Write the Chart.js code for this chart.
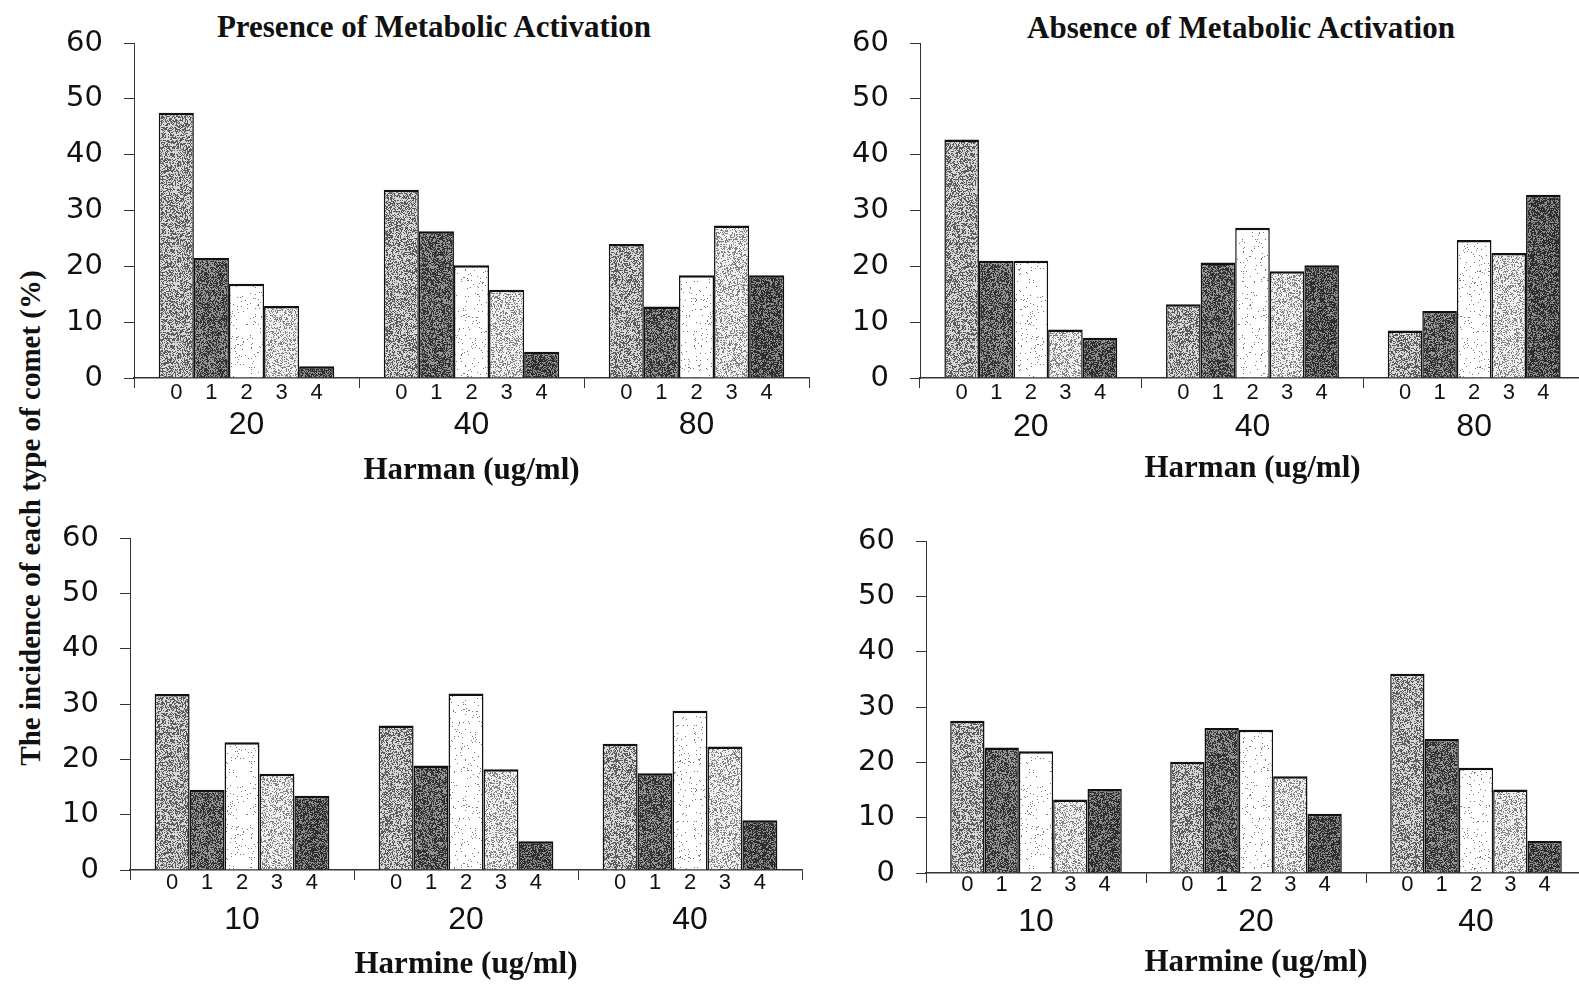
<!DOCTYPE html>
<html><head><meta charset="utf-8">
<script src="https://cdn.jsdelivr.net/npm/chart.js@4.4.1/dist/chart.umd.min.js"></script>
<style>
html,body{margin:0;padding:0;background:#fff;width:1579px;height:984px;overflow:hidden;position:relative;}
canvas{position:absolute;}
.t{position:absolute;font-family:"Liberation Serif","Times New Roman",serif;font-weight:bold;white-space:nowrap;color:#111;transform:translate(-50%,-50%);line-height:1;}
</style></head><body>
<div class="t" style="left:434px;top:26px;font-size:31px;">Presence of Metabolic Activation</div>
<div class="t" style="left:1241px;top:27px;font-size:31px;">Absence of Metabolic Activation</div>
<div class="t" style="left:30px;top:518px;font-size:29px;transform:translate(-50%,-50%) rotate(-90deg);">The incidence of each type of comet (%)</div>
<script>
// ---- data ----
const cometTypes = ['0','1','2','3','4'];
const harmanDoses = ['20','40','80'];
const harmineDoses = ['10','20','40'];
const yTickValues = [0,10,20,30,40,50,60];
// rows = dose, columns = comet type 0..4 (%)
const harmanPresence = [
  [47.5, 21.5, 16.9, 12.9, 2.1],
  [33.7, 26.3, 20.2, 15.8, 4.7],
  [24.0, 12.8, 18.4, 27.3, 18.4]
];
const harmanAbsence = [
  [42.7, 21.0, 21.0, 8.7, 7.2],
  [13.2, 20.7, 26.9, 19.1, 20.2],
  [8.5, 12.0, 24.7, 22.4, 32.8]
];
const harminePresence = [
  [31.8, 14.5, 23.1, 17.4, 13.4],
  [26.1, 18.9, 31.9, 18.2, 5.2],
  [22.8, 17.5, 28.8, 22.3, 9.0]
];
const harmineAbsence = [
  [27.5, 22.7, 22.0, 13.3, 15.2],
  [20.1, 26.2, 25.9, 17.5, 10.7],
  [36.0, 24.2, 19.0, 15.1, 5.8]
];

// ---- stipple fills (deterministic hash texture) ----
function hash(x, y, s) {
  let h = Math.imul(x, 73856093) ^ Math.imul(y, 19349663) ^ Math.imul(s, 83492791);
  h = Math.imul(h ^ (h >>> 13), 1274126177);
  h ^= h >>> 16;
  return (h >>> 0) / 4294967296;
}
function stipple(seed, p, dark, light) {
  const c = document.createElement('canvas');
  c.width = 96; c.height = 96;
  const g = c.getContext('2d');
  const img = g.createImageData(96, 96);
  for (let y = 0; y < 96; y++) for (let x = 0; x < 96; x++) {
    const v = hash(x, y, seed) < p ? dark : light;
    const k = (y * 96 + x) * 4;
    img.data[k] = img.data[k+1] = img.data[k+2] = v; img.data[k+3] = 255;
  }
  g.putImageData(img, 0, 0);
  return g.createPattern(c, 'repeat');
}
const fills = [
  stipple(1, 0.45, 90, 215),
  stipple(2, 0.55, 50, 150),
  stipple(3, 0.04, 120, 255),
  stipple(4, 0.32, 130, 240),
  stipple(5, 0.60, 45, 140)
];

const subLabelPlugin = {
  id: 'subLabels',
  afterDatasetsDraw(chart, args, opts) {
    const ctx = chart.ctx;
    ctx.save();
    ctx.font = '22px "Liberation Sans", Arial, sans-serif';
    ctx.fillStyle = '#111';
    ctx.textAlign = 'center';
    ctx.textBaseline = 'middle';
    chart.data.datasets.forEach((ds, i) => {
      chart.getDatasetMeta(i).data.forEach(el => {
        ctx.fillText(ds.label, el.x, chart.chartArea.bottom + opts.offset);
      });
    });
    ctx.restore();
  }
};

function makePanel(cfg) {
  const cv = document.createElement('canvas');
  cv.width = cfg.w; cv.height = cfg.h;
  cv.style.left = cfg.x + 'px'; cv.style.top = cfg.y + 'px';
  cv.style.width = cfg.w + 'px'; cv.style.height = cfg.h + 'px';
  document.body.appendChild(cv);
  const datasets = cometTypes.map((t, i) => ({
    label: t,
    data: cfg.values.map(row => row[i]),
    backgroundColor: fills[i],
    borderColor: '#111',
    borderWidth: {top: 2.5, left: 1.5, right: 1.5, bottom: 0},
    borderSkipped: 'start',
    barPercentage: 1.0,
    categoryPercentage: 0.78
  }));
  new Chart(cv, {
    type: 'bar',
    data: {labels: cfg.doses, datasets},
    options: {
      responsive: false, animation: false, devicePixelRatio: 1,
      layout: {padding: {left: 0, right: cfg.padRight, top: cfg.padTop, bottom: 0}},
      plugins: {legend: {display: false}, tooltip: {enabled: false}, title: {display: false},
                subLabels: {offset: cfg.subOff}},
      scales: {
        x: {
          grid: {display: true, drawOnChartArea: false, drawTicks: true, tickLength: 10, color: '#333', lineWidth: 1, offset: true},
          border: {display: true, color: '#333', width: 1.5},
          ticks: {font: {family: '"Liberation Sans", Arial, sans-serif', size: 32}, color: '#111', padding: cfg.groupPad, maxRotation: 0, autoSkip: false},
          title: {display: true, text: cfg.xTitle, color: '#111',
                  font: {family: '"Liberation Serif", "Times New Roman", serif', size: 31, weight: 'bold'},
                  padding: {top: 0, bottom: cfg.titlePad}},
          afterFit: s => { s.height = cfg.xAxisH; }
        },
        y: {
          min: 0, max: 60,
          afterBuildTicks: s => { s.ticks = yTickValues.map(v => ({value: v})); },
          grid: {drawOnChartArea: false, drawTicks: true, tickLength: 10, color: '#333'},
          border: {display: true, color: '#333', width: 1},
          ticks: {font: {family: '"DejaVu Sans", sans-serif', size: 29}, color: '#111', padding: 21},
          afterFit: s => { s.width = cfg.yAxisW; }
        }
      }
    },
    plugins: [subLabelPlugin]
  });
}

makePanel({x: 0, y: 0, w: 830, h: 490, yAxisW: 134, padRight: 21, padTop: 43, xAxisH: 112,
  doses: harmanDoses, values: harmanPresence, xTitle: 'Harman (ug/ml)', subOff: 15, groupPad: 18, titlePad: 0});
makePanel({x: 800, y: 0, w: 810, h: 490, yAxisW: 120, padRight: 25, padTop: 43, xAxisH: 112,
  doses: harmanDoses, values: harmanAbsence, xTitle: 'Harman (ug/ml)', subOff: 15, groupPad: 20, titlePad: 2});
makePanel({x: 0, y: 490, w: 830, h: 494, yAxisW: 130, padRight: 28, padTop: 48, xAxisH: 114,
  doses: harmineDoses, values: harminePresence, xTitle: 'Harmine (ug/ml)', subOff: 13, groupPad: 21, titlePad: 0});
makePanel({x: 800, y: 490, w: 810, h: 494, yAxisW: 126, padRight: 24, padTop: 51, xAxisH: 111,
  doses: harmineDoses, values: harmineAbsence, xTitle: 'Harmine (ug/ml)', subOff: 12, groupPad: 20, titlePad: 2});
</script>
</body></html>
